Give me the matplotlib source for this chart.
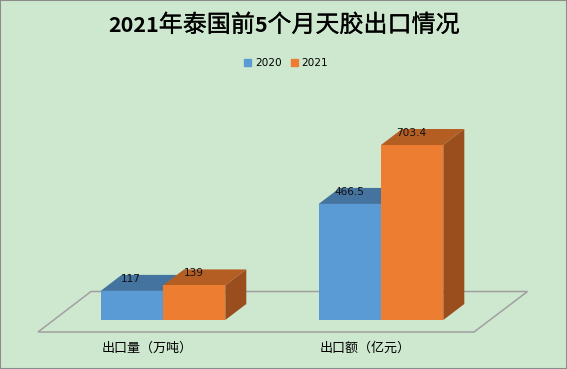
import matplotlib
matplotlib.use('Agg')
import matplotlib.pyplot as plt
import matplotlib.patheffects as pe
from matplotlib.patches import Polygon, Patch
from matplotlib.transforms import Affine2D

plt.rcParams['font.family'] = ['Noto Sans CJK SC', 'DejaVu Sans']

categories = ['出口量（万吨）', '出口额（亿元）']
series_names = ['2020', '2021']
values_2020 = [117, 466.5]
values_2021 = [139, 703.4]
labels_2020 = ['117', '466.5']
labels_2021 = ['139', '703.4']
title_parts = ['2021', '年泰国前', '5', '个月天胶出口情况']

W, H = 567, 369
BG = '#CDE8CF'
FRONT = ['#5B9BD5', '#ED7D31']
TOP = ['#44739F', '#B55E24']
SIDE = ['#3F6A94', '#9A4E1D']

# pixels per unit on both axes
x_scale = 218.0
y_scale = 175.0 / 703.4
x0_px, y0_px = 163.0, 320.0
bar_w = 62.3 / x_scale
dx = 21.0 / x_scale
dy = 16.0 / y_scale

fig = plt.figure(figsize=(W / 100, H / 100), dpi=100, facecolor=BG)
ax = fig.add_axes([0, 0, 1, 1], facecolor=BG)
ax.set_xlim(-x0_px / x_scale, (W - x0_px) / x_scale)
ax.set_ylim(-(H - y0_px) / y_scale, y0_px / y_scale)
ax.set_xticks([])
ax.set_yticks([])
for s in ax.spines.values():
    s.set_color('#8c8c8c')
    s.set_linewidth(1.5)

# floor of the 3d box, in image pixels
px = Affine2D().scale(1, -1).translate(0, H)
ax.add_patch(Polygon([(38, 332), (91, 291.5), (527.5, 291.5), (474, 332)], closed=True,
                     facecolor='none', edgecolor='#a0a0a0', lw=1.1, transform=px, zorder=1))


def bar3d(x, v, k):
    # x is the left edge of the front face
    ax.bar(x, v, bar_w, align='edge', color=FRONT[k], zorder=3 + k * 2)
    ax.add_patch(Polygon([(x, v), (x + dx, v + dy), (x + bar_w + dx, v + dy), (x + bar_w, v)],
                         facecolor=TOP[k], edgecolor='none', zorder=2 + k * 2))
    ax.add_patch(Polygon([(x + bar_w, 0), (x + bar_w + dx, dy), (x + bar_w + dx, v + dy), (x + bar_w, v)],
                         facecolor=SIDE[k], edgecolor='none', zorder=2 + k * 2))


for i in range(len(categories)):
    bar3d(i - bar_w, values_2020[i], 0)
    bar3d(i, values_2021[i], 1)
    ax.annotate(labels_2020[i], (i - bar_w / 2, values_2020[i]), xytext=(-0.7, 8.8),
                textcoords='offset points', ha='center', va='center', fontsize=7.6,
                family='DejaVu Sans', color='#111111', zorder=10)
    ax.annotate(labels_2021[i], (i + bar_w / 2, values_2021[i]), xytext=(-0.3, 8.8),
                textcoords='offset points', ha='center', va='center', fontsize=7.6,
                family='DejaVu Sans', color='#111111', zorder=10)
    ax.annotate(categories[i], (i, 0), xytext=(-11.5, -20.2), textcoords='offset points',
                ha='center', va='center', fontsize=9.4, color='black')

# title mixes bold digits with lighter cjk, so lay the pieces out one after another
renderer = fig.canvas.get_renderer()
xpos = 108.0
for part in title_parts:
    if part[0].isdigit():
        t = fig.text(xpos / W, 1 - 26 / H, part, ha='left', va='center', fontsize=15.5,
                     fontweight='bold', color='black')
    else:
        t = fig.text(xpos / W, 1 - 25 / H, part, ha='left', va='center', fontsize=17.3,
                     color='black', path_effects=[pe.withStroke(linewidth=0.2, foreground='black')])
    xpos += t.get_window_extent(renderer).width

handles = [Patch(color=FRONT[k], label=series_names[k]) for k in range(2)]
ax.legend(handles=handles, ncol=2, loc='center', bbox_to_anchor=(286 / W, 1 - 63 / H),
          frameon=False, handlelength=0.66, handleheight=0.66,
          handletextpad=0.38, columnspacing=0.85, borderpad=0,
          prop={'family': 'DejaVu Sans', 'size': 7.6})

fig.savefig('out.png', dpi=100, facecolor=BG)
